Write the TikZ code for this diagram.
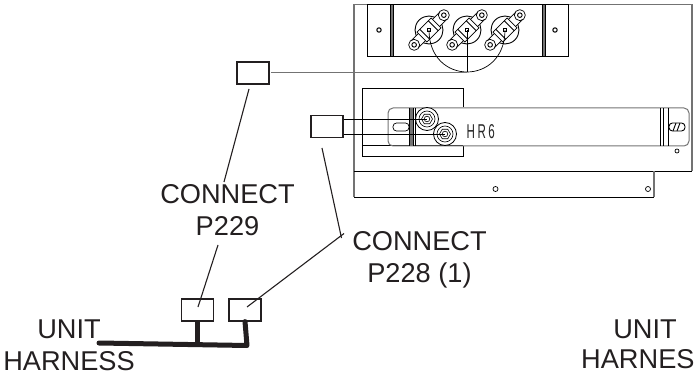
\documentclass[tikz,border=0pt]{standalone}
\usepackage{fontspec}
\setmainfont{Liberation Sans}
\newfontfamily\hrfont[LetterSpace=22]{Liberation Sans}
\definecolor{inkdark}{HTML}{231F20}
\begin{document}
\begin{tikzpicture}[x=1pt, y=-1pt]
\tikzset{plugbox/.style={draw=inkdark, line width=1.2pt, minimum width=32pt, minimum height=22pt, inner sep=0pt},
  leader/.style={draw=inkdark, line width=1.1pt},
  thinline/.style={draw=black, line width=0.7pt},
  panelline/.style={draw=black!55, line width=1.3pt},
  callout/.style={text=inkdark, align=center, font=\fontsize{27.2}{31.5}\selectfont, inner sep=0pt}}
\useasboundingbox (0, 0) rectangle (694, 377);
% panel
\draw[panelline] (354, 197) -- (354, 4.5) -- (692, 4.5) -- (692, 171);
\draw[thinline] (354, 171) -- (692, 171);
\draw[thinline] (354, 197) -- (654, 197);
\draw[panelline] (654, 171) -- (654, 197);
\draw[thinline] (495.5, 189) circle (2.5);
\draw[thinline] (648, 189) circle (2.5);
% upper bracket
\draw[thinline] (367, 4.5) rectangle (568, 56);
\draw[thinline, fill=black!55] (390, 4.5) rectangle (393, 56);
\draw[thinline, fill=black!55] (542, 4.5) rectangle (545, 56);
\foreach \sx in {379, 555} {
  \draw[line width=1pt] (\sx, 30) circle (2.2);
}
\foreach \tx in {429, 467, 505} {
  \begin{scope}[shift={(\tx, 30)}, rotate=45]
    \draw[line width=0.9pt] (0, 0) circle (14);
    \draw[line width=0.7pt, fill=white] (-21, -5) rectangle (21, 5);
    \draw[line width=0.7pt, fill=white] (-21, 0) circle (5.5);
    \draw[line width=0.7pt, fill=white] (21, 0) circle (5.5);
    \draw[line width=0.9pt] (-21, 0) circle (2.3);
    \draw[line width=0.9pt] (21, 0) circle (2.3);
    \draw[line width=0.7pt, fill=white] (-10, -7) rectangle (10, 7);
    \draw[line width=0.9pt] (-6, -7) -- (-6, 7);
    \draw[line width=0.9pt] (6, -7) -- (6, 7);
    \draw[line width=0.9pt] (0, 0) circle (1.8);
  \end{scope}
}
% lower bracket
\draw[thinline] (463, 107.5) -- (463, 88) -- (362, 88) -- (362, 156) -- (463, 156) -- (463, 146);
\draw[thinline] (362, 145.5) -- (463, 145.5);
% HR6 bar
\draw[panelline, line width=1pt, rounded corners=5pt] (388, 108) rectangle (689, 146);
\fill[black!55] (409, 108) rectangle (413, 146);
\draw[thinline] (409, 108) -- (409, 146) (413, 108) -- (413, 146) (415.5, 108) -- (415.5, 146);
\draw[thinline] (660, 108) -- (660, 146) (663.5, 108) -- (663.5, 146) (668, 108) -- (668, 146);
\draw[thinline, rounded corners=3.5pt] (393, 123) rectangle (409, 131);
\draw[line width=0.9pt, rounded corners=3.5pt] (669, 123) rectangle (685, 131);
\draw[line width=0.9pt] (673, 131) -- (676, 123) (677, 131) -- (680, 123);
\draw[thinline] (677, 151) circle (2);
\node[font=\fontsize{20}{20}\selectfont\hrfont, text=black!85, anchor=base west, inner sep=0pt, xscale=0.58, transform shape] (hrlabel) at (466.5, 139) {HR6};
% studs
\foreach \cx/\cy in {427/119, 445/134} {
  \begin{scope}[shift={(\cx, \cy)}]
    \draw[line width=0.8pt, fill=white] (0, 0) circle (11.5);
    \draw[line width=0.6pt] (0, 0) circle (8);
    \draw[line width=0.6pt] (0:5.5) -- (60:5.5) -- (120:5.5) -- (180:5.5) -- (240:5.5) -- (300:5.5) -- cycle;
    \draw[line width=0.6pt] (0, 0) circle (2.8);
  \end{scope}
}
% plugs
\node[plugbox] (upperplug) at (253, 73) {};
\node[plugbox] (sideplug) at (327, 126.5) {};
\node[plugbox] (plugA) at (197.5, 310) {};
\node[plugbox] (plugB) at (245, 310) {};
% terminal leads
\coordinate (term1) at (429, 30);
\coordinate (term2) at (467, 30);
\coordinate (term3) at (505, 30);
\coordinate (termjoin) at (467, 72);
\draw[thinline] (term1) .. controls (429, 86) and (505, 86) .. (term3);
\draw[thinline] (term2) -- (termjoin);
\draw[panelline, line width=0.8pt] (271, 72) -- (termjoin);
\coordinate (stud1) at (427, 119);
\coordinate (stud2) at (445, 134);
\draw[thinline] (344, 119) -- (stud1);
\draw[thinline] (344, 134) -- (stud2);
% labels
\node[callout] (connectA) at (227.5, 210) {CONNECT\\P229};
\node[callout] (connectB) at (419.5, 260) {CONNECT\\P228 (1)};
\node[callout] (unitL) at (69, 345.5) {UNIT\\HARNESS};
\node[callout, anchor=base] (unitR) at (645, 338) {UNIT};
\node[callout, anchor=base west] (harnesR) at (581, 368) {HARNES};
% callout leaders
\coordinate (upperfoot) at (249, 89);
\coordinate (upperend) at (224, 182);
\draw[leader] (upperfoot) -- (upperend);
\coordinate (midA) at (218, 245);
\coordinate (tipA) at (198, 307);
\draw[leader] (midA) -- (tipA);
\coordinate (sidefoot) at (322, 148);
\coordinate (bend) at (341.5, 238);
\coordinate (tipB) at (247, 307);
\coordinate (over) at (344, 233.5);
\draw[leader] (sidefoot) -- (bend);
\draw[leader] (over) -- (tipB);
% harness
\coordinate (hstart) at (99, 343);
\coordinate (hend) at (247, 345.5);
\draw[draw=inkdark, line width=5pt, line cap=round, line join=round] (hstart) -- (hend) -- (plugB.south);
\draw[draw=inkdark, line width=5pt] (plugA.south) -- (197.5, 345);
\end{tikzpicture}
\end{document}
